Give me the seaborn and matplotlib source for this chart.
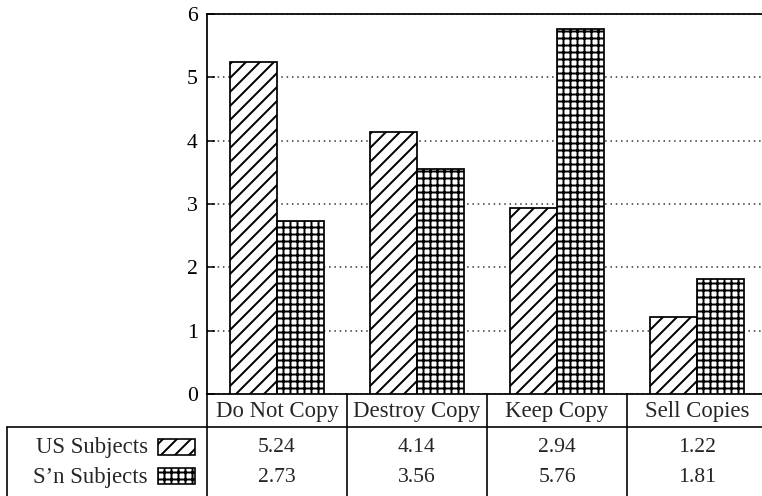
import numpy as np
import pandas as pd
import matplotlib
matplotlib.use("Agg")
import matplotlib.pyplot as plt
import matplotlib.transforms as mtransforms
from matplotlib.patches import Rectangle
from matplotlib.lines import Line2D
import seaborn as sns

categories = ["Do Not Copy", "Destroy Copy", "Keep Copy", "Sell Copies"]
series_names = ["US Subjects", "S\u2019n Subjects"]
us_values = [5.24, 4.14, 2.94, 1.22]
sn_values = [2.73, 3.56, 5.76, 1.81]
hatches = ["//", "++"]
y_ticks = [0, 1, 2, 3, 4, 5, 6]

sns.set_theme(style="white")
plt.rcParams["font.family"] = ["Liberation Serif", "DejaVu Serif"]
plt.rcParams["hatch.linewidth"] = 1.7
plt.rcParams["hatch.color"] = "black"

DPI = 84
fig = plt.figure(figsize=(762 / DPI, 496 / DPI), dpi=DPI)
fig.patch.set_facecolor("white")

W, H = 762.0, 496.0
def fx(px):
    return px / W
def fy(py):
    return 1 - py / H

TXT = 19.5
NUM = 18.5

ax = fig.add_axes([fx(207), fy(394), fx(767) - fx(207), fy(14) - fy(394)])

df = pd.DataFrame({
    "category": categories * 2,
    "value": us_values + sn_values,
    "group": [series_names[0]] * len(categories) + [series_names[1]] * len(categories),
})

sns.barplot(data=df, x="category", y="value", hue="group", order=categories,
            hue_order=series_names, palette=["white", "white"], saturation=1,
            edgecolor="black", linewidth=1.5, width=0.67, legend=False, ax=ax,
            errorbar=None)
for cont, h in zip(ax.containers, hatches):
    for bar in cont:
        bar.set_hatch(h)
        bar.set_zorder(3)

ax.set_xlim(-0.5, len(categories) - 0.5)
ax.set_ylim(0, 6)
ax.set_yticks(y_ticks)
ax.set_xlabel("")
ax.set_ylabel("")
ax.tick_params(axis="x", bottom=False, labelbottom=False)
ax.tick_params(axis="y", direction="in", length=7, width=1.3, left=True,
               labelsize=NUM, pad=8, colors="black")
ax.yaxis.grid(True, linestyle=(0, (1, 2.5)), color="#333333", linewidth=1.3)
ax.set_axisbelow(True)
for s in ["left", "top", "bottom", "right"]:
    ax.spines[s].set_visible(True)
    ax.spines[s].set_color("black")
    ax.spines[s].set_linewidth(1.5)

# --- data table below the axes ---
blend = mtransforms.blended_transform_factory(ax.transData, fig.transFigure)
lw = 1.4
y_axis_bottom = fy(394)
y_header_line = fy(427)
y_bottom = -0.02

for i in range(len(categories) + 1):
    x = i - 0.5
    fig.add_artist(Line2D([x, x], [y_axis_bottom, y_bottom], transform=blend,
                          color="black", linewidth=lw, clip_on=False))
fig.add_artist(Line2D([fx(7), fx(7)], [y_header_line, y_bottom], transform=fig.transFigure,
                      color="black", linewidth=lw, clip_on=False))
fig.add_artist(Line2D([fx(7), 1.02], [y_header_line, y_header_line], transform=fig.transFigure,
                      color="black", linewidth=lw, clip_on=False))

for i, c in enumerate(categories):
    fig.text(i, fy(411), c, transform=blend, ha="center", va="center", fontsize=TXT)

row_y = [fy(448), fy(477)]
for vals, yy in zip([us_values, sn_values], row_y):
    for i, v in enumerate(vals):
        fig.text(i, yy, f"{v:.2f}", transform=blend, ha="center", va="center", fontsize=NUM)

sw_top = [439, 468]
for name, h, yy, st in zip(series_names, hatches, row_y, sw_top):
    fig.text(fx(148), yy, name, ha="right", va="center", fontsize=TXT)
    fig.add_artist(Rectangle((fx(158), fy(st + 16)), fx(195) - fx(158), fy(st) - fy(st + 16),
                             transform=fig.transFigure, facecolor="white", edgecolor="black",
                             linewidth=lw, hatch=h))

fig.savefig("out.png", dpi=DPI, facecolor="white")
